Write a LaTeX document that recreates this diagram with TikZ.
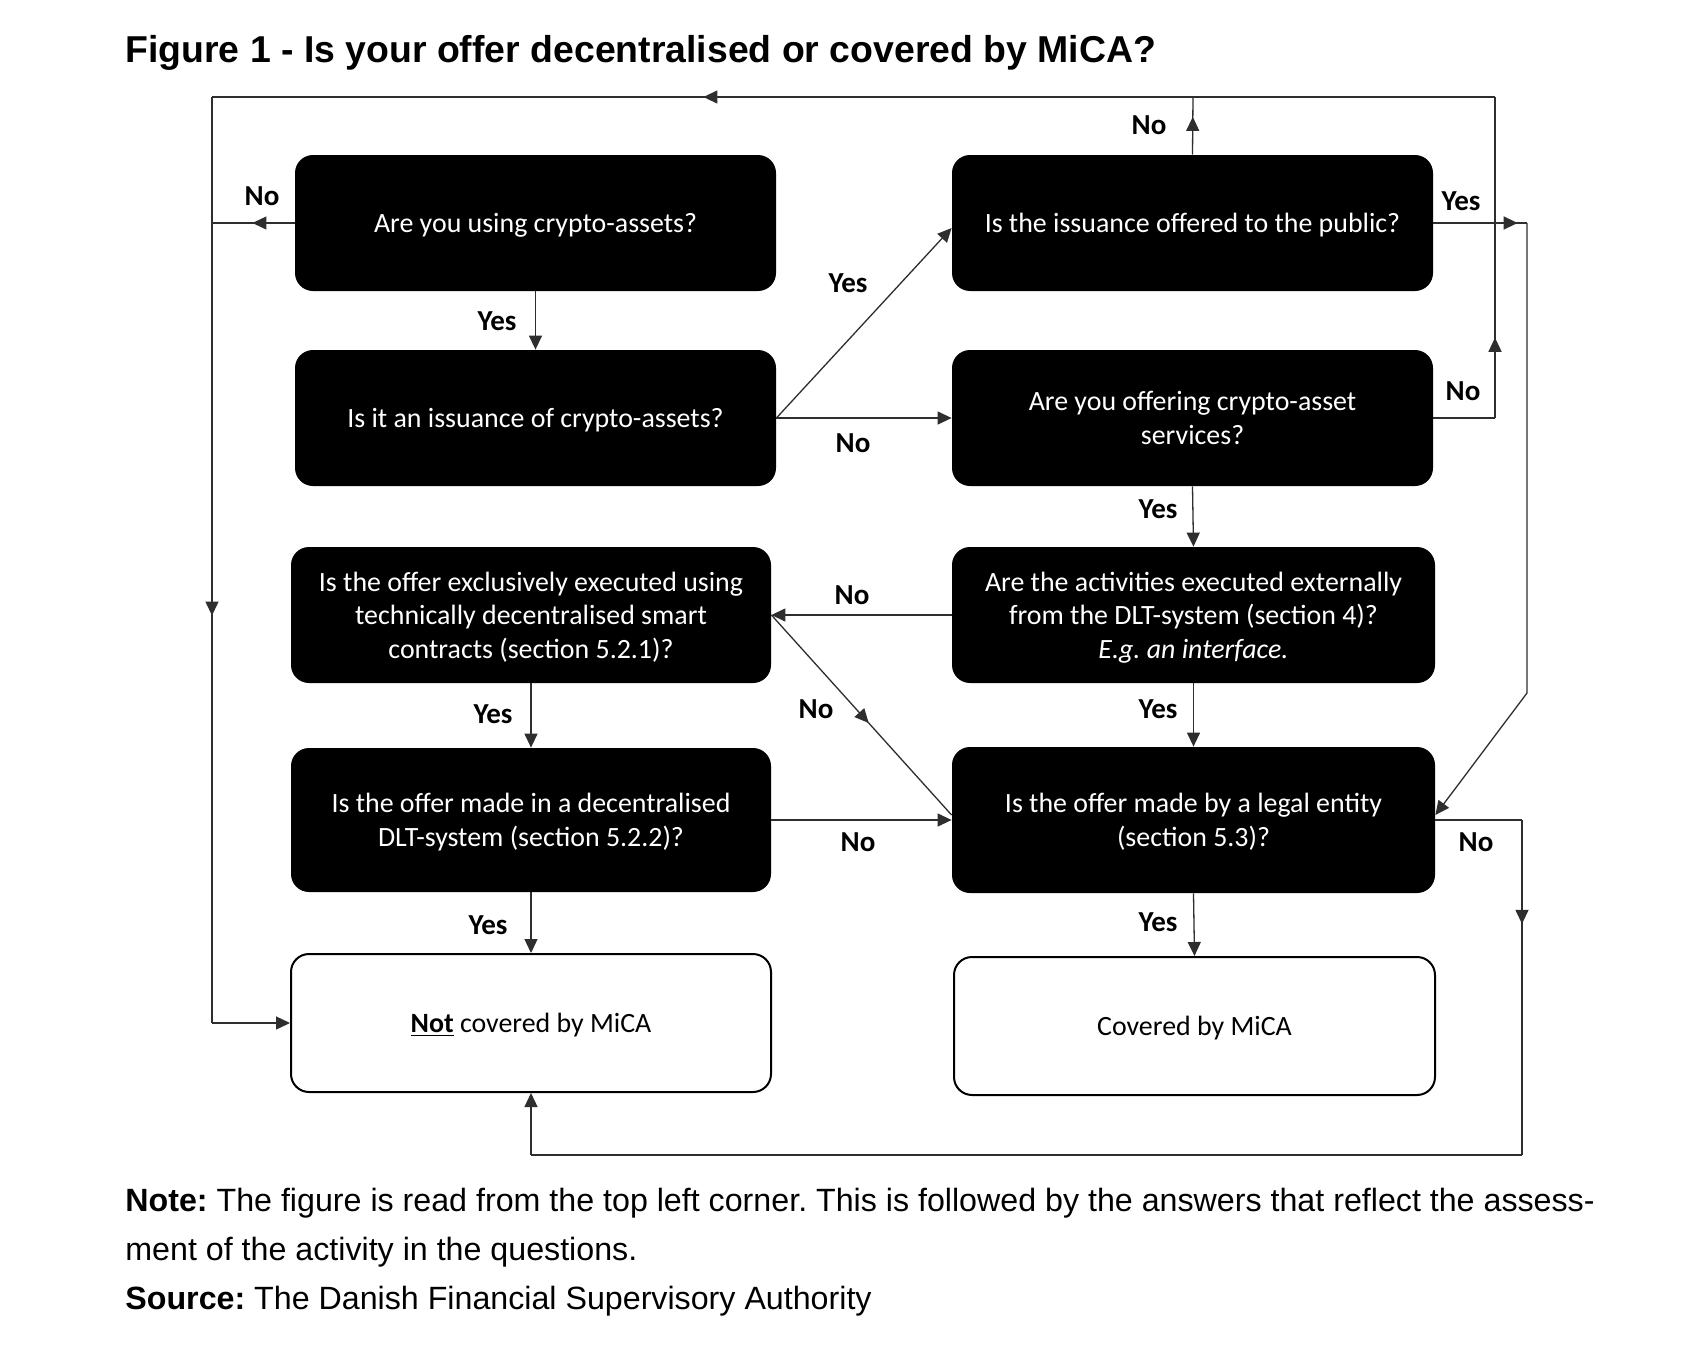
\documentclass[tikz,border=0pt]{standalone}
\usepackage{fontspec}
\setmainfont{Carlito}
\newfontfamily\arialfont{Liberation Sans}
\usetikzlibrary{arrows.meta,decorations.markings}
\begin{document}
\frenchspacing
\begin{tikzpicture}[x=0.5pt,y=-0.5pt,
  qbox/.style={draw=none, fill=black, text=white, rounded corners=9pt,
    minimum width=240.5pt, minimum height=68pt, inner sep=0pt, align=center,
    text depth=0pt, font=\fontsize{13.95}{16.8}\selectfont},
  endbox/.style={draw=black, line width=1pt, fill=white, text=black, rounded corners=9pt,
    minimum width=240pt, minimum height=69pt, inner sep=0pt, align=center,
    text depth=0pt, font=\fontsize{13.95}{16.8}\selectfont},
  lbl/.style={inner sep=0pt, font=\bfseries\fontsize{14.5}{17}\selectfont},
  conn/.style={line width=0.65pt, color=black!82},
  arr/.style={conn, -{Triangle[length=7pt,width=6.5pt]}},
  marrow/.style={conn, postaction={decorate}, decoration={markings,
    mark=at position #1 with {\arrow{Triangle[length=7pt,width=6.5pt]}}}},
  notetext/.style={anchor=base west, inner sep=0pt, font=\arialfont\fontsize{16.1}{20}\selectfont}
]
\useasboundingbox (0,0) rectangle (1704,1360);
\fill[white] (0,0) rectangle (1704,1360);

% title
\node[anchor=base west, inner sep=0pt, font=\arialfont\bfseries\fontsize{18.7}{22}\selectfont] (title) at (125,62)
  {Figure 1 - Is your offer decentralised or covered by MiCA?};

% boxes
\node[qbox] (B1) at (535.5,223) {Are you using crypto-assets?};
\node[qbox] (B2) at (535.5,418) {Is it an issuance of crypto-assets?};
\node[qbox] (B3) at (1192.5,223) {Is the issuance offered to the public?};
\node[qbox] (B4) at (1192.5,418) {Are you offering crypto-asset\\services?};
\node[qbox, minimum width=240pt] (L3) at (531,615) {Is the offer exclusively executed using\\technically decentralised smart\\contracts (section 5.2.1)?};
\node[qbox, minimum width=241.5pt] (B5) at (1193.5,615) {Are the activities executed externally\\from the DLT-system (section 4)?\\\textit{E.g. an interface.}};
\node[qbox, minimum width=240pt, minimum height=72pt] (L4) at (531,820) {Is the offer made in a decentralised\\DLT-system (section 5.2.2)?};
\node[qbox, minimum width=241.5pt, minimum height=73pt] (B6) at (1193.5,820) {Is the offer made by a legal entity\\(section 5.3)?};
\node[endbox] (NC) at (531,1023) {\underline{\textbf{Not}} covered by MiCA};
\node[endbox, minimum width=240.5pt] (CV) at (1194.5,1026) {Covered by MiCA};

% corner coordinates
\coordinate (TL) at (212,97);
\coordinate (TR) at (1495,97);
\coordinate (TopN) at (1193,97);
\coordinate (L1) at (212,223);
\coordinate (LB) at (212,1023);
\coordinate (R4) at (1495,418);
\coordinate (RY1) at (1527,223);
\coordinate (RY2) at (1527,693);
\coordinate (R6) at (1522,820);
\coordinate (R6b) at (1522,1155);
\coordinate (BB) at (531,1155);

% connectors
\draw[marrow=0.617] (TR) -- (TL);
\draw[marrow=0.56] (TL) -- (LB);
\draw[arr] (LB) -- (NC.west);
\draw[marrow=0.51] (B1.west) -- (L1);
\draw[arr] (B1.south) -- (B2.north);
\draw[arr] (B2.east) -- ([yshift=-2.5pt]B3.west);
\draw[arr] (B2.east) -- (B4.west);
\draw[marrow=0.655] (B3.north) -- (TopN);
\draw[marrow=0.90] (B3.east) -- (RY1);
\draw[arr] (RY1) -- (RY2) -- ([yshift=2.5pt]B6.east);
\draw[conn] (B4.east) -- (R4);
\draw[marrow=0.25] (R4) -- (TR);
\draw[arr] (B4.south) -- (B5.north);
\draw[arr] (B5.west) -- (L3.east);
\draw[marrow=0.54] (L3.east) -- ([yshift=2.5pt]B6.west);
\draw[arr] (B5.south) -- (B6.north);
\draw[arr] (L3.south) -- (L4.north);
\draw[arr] (L4.east) -- (B6.west);
\draw[arr] (L4.south) -- (NC.north);
\draw[arr] (B6.south) -- (CV.north);
\draw[conn] (B6.east) -- (R6);
\draw[marrow=0.31] (R6) -- (R6b);
\draw[conn] (R6b) -- (BB);
\draw[arr] (BB) -- (NC.south);

% labels
\node[lbl] (n1) at (262,196) {No};
\node[lbl] (y1) at (497,321) {Yes};
\node[lbl] (y2) at (848,283) {Yes};
\node[lbl] (n2) at (853,443) {No};
\node[lbl] (n3) at (1149,125) {No};
\node[lbl] (y3) at (1461,201) {Yes};
\node[lbl] (n4) at (1463,391) {No};
\node[lbl] (y4) at (1158,509) {Yes};
\node[lbl] (n5) at (852,595) {No};
\node[lbl] (n6) at (816,709) {No};
\node[lbl] (y5) at (1158,709) {Yes};
\node[lbl] (y6) at (493,714) {Yes};
\node[lbl] (n7) at (858,842) {No};
\node[lbl] (y7) at (488,925) {Yes};
\node[lbl] (y8) at (1158,922) {Yes};
\node[lbl] (n8) at (1476,842) {No};

% note
\node[notetext] (note1) at (125,1211) {\textbf{Note:} The figure is read from the top left corner. This is followed by the answers that reflect the assess-};
\node[notetext] (note2) at (125,1260) {ment of the activity in the questions.};
\node[notetext] (src) at (125,1309) {\textbf{Source:} The Danish Financial Supervisory Authority};
\end{tikzpicture}
\end{document}
